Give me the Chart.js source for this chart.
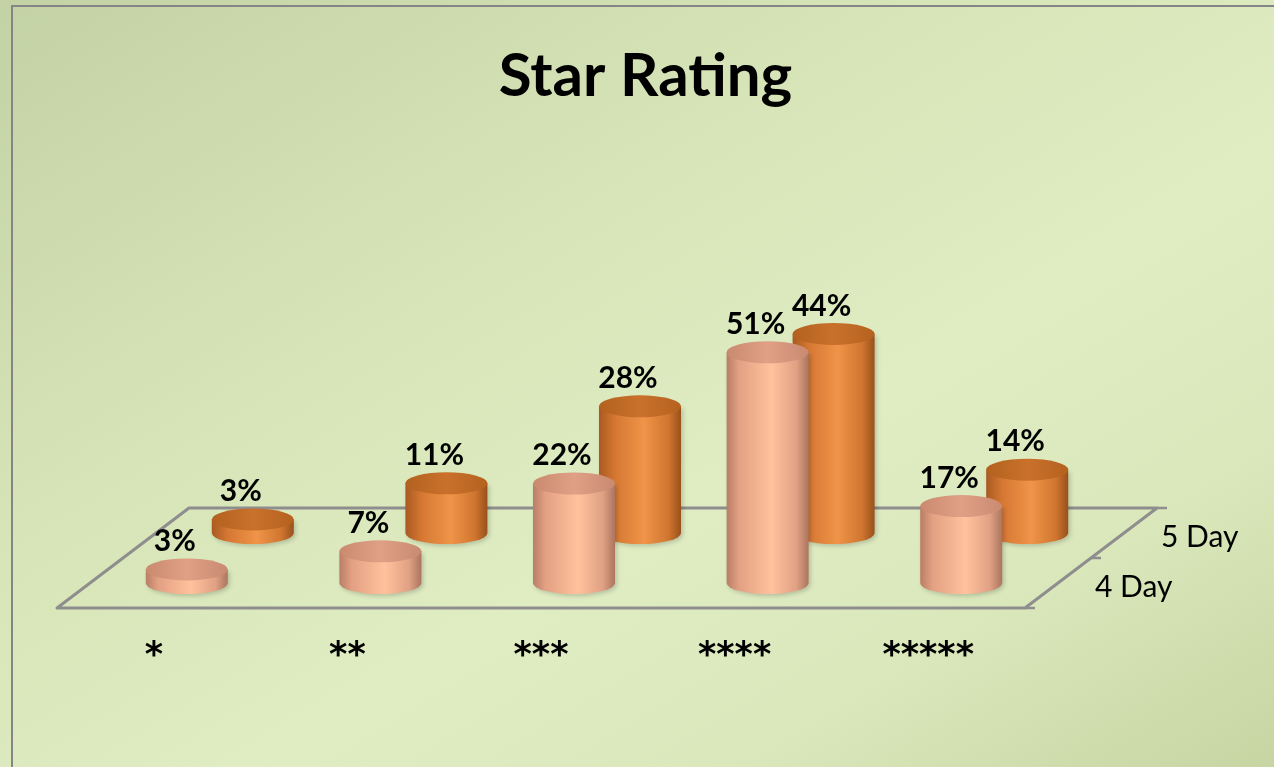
<!DOCTYPE html>
<html>
<head>
<meta charset="utf-8">
<title>Star Rating</title>
<script src="https://cdn.jsdelivr.net/npm/chart.js@4.4.1/dist/chart.umd.min.js"></script>
<style>
  html, body { margin: 0; padding: 0; }
  body {
    width: 1274px;
    height: 767px;
    overflow: hidden;
    position: relative;
    background: linear-gradient(to bottom right, #c3d2a4 0%, #d6e4b7 35%, #e0edc3 60%, #dbe8bc 78%, #c7d5a3 100%);
  }
  #frame {
    position: absolute;
    left: 11px;
    top: 5px;
    width: 1300px;
    height: 800px;
    border-left: 2px solid #858585;
    border-top: 2px solid #858585;
  }
  #ratingChart { position: absolute; left: 0; top: 0; }
</style>
</head>
<body>
<div id="frame"></div>
<canvas id="ratingChart" width="1274" height="767"></canvas>
<script>
const categories = ["*", "**", "***", "****", "*****"];
const seriesNames = ["4 Day", "5 Day"];
const fourDay = [3, 7, 22, 51, 17];
const fiveDay = [3, 11, 28, 44, 14];

// fake 3D: depth vector of the floor and where each series row sits on it
const DEPTH_X = 132;
const DEPTH_Y = -100;
const ROW_DEPTH = [0.25, 0.75];
const RX = 41;
const RY = 11;

const palettes = [
  {
    body: [[0, "#b87e66"], [0.15, "#e3a083"], [0.55, "#ffc29d"], [0.85, "#e0a184"], [1, "#ab755e"]],
    top: [[0, "#c98a70"], [0.5, "#dfa086"], [1, "#c98a72"]]
  },
  {
    body: [[0, "#a95a22"], [0.2, "#d67833"], [0.55, "#ef9448"], [0.85, "#cf752f"], [1, "#98511b"]],
    top: [[0, "#b3611f"], [0.5, "#c9712c"], [1, "#b5621f"]]
  }
];

function gradient(ctx, x0, x1, stops) {
  const g = ctx.createLinearGradient(x0, 0, x1, 0);
  stops.forEach(([s, c]) => g.addColorStop(s, c));
  return g;
}

function drawCylinder(ctx, cx, top, base, pal) {
  ctx.save();
  ctx.shadowColor = "rgba(0,0,0,0.18)";
  ctx.shadowBlur = 4;
  ctx.shadowOffsetX = 2;
  ctx.shadowOffsetY = 2;
  ctx.beginPath();
  ctx.moveTo(cx - RX, top);
  ctx.lineTo(cx - RX, base);
  ctx.ellipse(cx, base, RX, RY, 0, Math.PI, 0, true);
  ctx.lineTo(cx + RX, top);
  ctx.closePath();
  ctx.fillStyle = gradient(ctx, cx - RX, cx + RX, pal.body);
  ctx.fill();
  ctx.restore();

  ctx.beginPath();
  ctx.ellipse(cx, top, RX, RY, 0, 0, Math.PI * 2);
  ctx.fillStyle = gradient(ctx, cx - RX, cx + RX, pal.top);
  ctx.fill();
}

const cylinderPlugin = {
  id: "cylinders",
  beforeDatasetsDraw(chart) {
    const { ctx, chartArea } = chart;
    const l = chartArea.left, r = chartArea.right, b = chartArea.bottom;
    ctx.save();
    ctx.strokeStyle = "#8e8e8e";
    ctx.lineWidth = 3;
    ctx.lineJoin = "round";
    ctx.beginPath();
    ctx.moveTo(l, b);
    ctx.lineTo(r, b);
    ctx.lineTo(r + DEPTH_X, b + DEPTH_Y);
    ctx.lineTo(l + DEPTH_X, b + DEPTH_Y);
    ctx.closePath();
    ctx.stroke();
    // small ticks on the depth axis
    ctx.lineWidth = 2.5;
    [0, 0.5, 1].forEach(t => {
      const x = r + DEPTH_X * t, y = b + DEPTH_Y * t;
      ctx.beginPath();
      ctx.moveTo(x, y);
      ctx.lineTo(x + 10, y);
      ctx.stroke();
    });
    ctx.restore();
  },
  afterDatasetsDraw(chart) {
    const { ctx, chartArea } = chart;
    // back row first so the front row covers it
    for (let d = chart.data.datasets.length - 1; d >= 0; d--) {
      const meta = chart.getDatasetMeta(d);
      const dx = ROW_DEPTH[d] * DEPTH_X;
      const dy = ROW_DEPTH[d] * DEPTH_Y;
      meta.data.forEach((bar, i) => {
        const cx = bar.x + dx;
        const top = bar.y + dy;
        const base = bar.base + dy;
        drawCylinder(ctx, cx, top, base, palettes[d]);
        ctx.save();
        ctx.fillStyle = "#000";
        ctx.font = "bold 30px Lato";
        ctx.textAlign = "center";
        ctx.textBaseline = "middle";
        ctx.fillText(chart.data.datasets[d].data[i] + "%", cx - 12, top - 28);
        ctx.restore();
      });
    }
    // series names along the depth axis
    ctx.save();
    ctx.fillStyle = "#000";
    ctx.font = "30px Lato";
    ctx.textAlign = "left";
    ctx.textBaseline = "middle";
    chart.data.datasets.forEach((ds, d) => {
      const x = chartArea.right + ROW_DEPTH[d] * DEPTH_X;
      const y = chartArea.bottom + ROW_DEPTH[d] * DEPTH_Y;
      ctx.fillText(ds.label, x + 37, y + 4);
    });
    ctx.restore();
  }
};

new Chart(document.getElementById("ratingChart"), {
  type: "bar",
  data: {
    labels: categories,
    datasets: [
      { label: seriesNames[0], data: fourDay, backgroundColor: "rgba(0,0,0,0)" },
      { label: seriesNames[1], data: fiveDay, backgroundColor: "rgba(0,0,0,0)" }
    ]
  },
  options: {
    responsive: false,
    animation: false,
    datasets: { bar: { grouped: false } },
    layout: { padding: { top: 16, left: 57, right: 40, bottom: 69 } },
    plugins: {
      legend: { display: false },
      tooltip: { enabled: false },
      title: {
        display: true,
        text: "Star Rating",
        color: "#000",
        font: { family: "Lato", size: 60, weight: "bold" },
        padding: { top: 25, bottom: 20 }
      }
    },
    scales: {
      x: {
        grid: { display: false },
        border: { display: false },
        ticks: {
          color: "#000",
          font: { family: "DejaVu Sans", size: 35, weight: "bold" },
          padding: 20
        }
      },
      // empty right axis: reserves room for the depth of the floor and the series names
      y: {
        position: "right",
        min: 0,
        max: 105,
        grid: { display: false },
        border: { display: false },
        ticks: { display: false },
        afterFit: scale => { scale.width = 209; }
      }
    }
  },
  plugins: [cylinderPlugin]
});
</script>
</body>
</html>
